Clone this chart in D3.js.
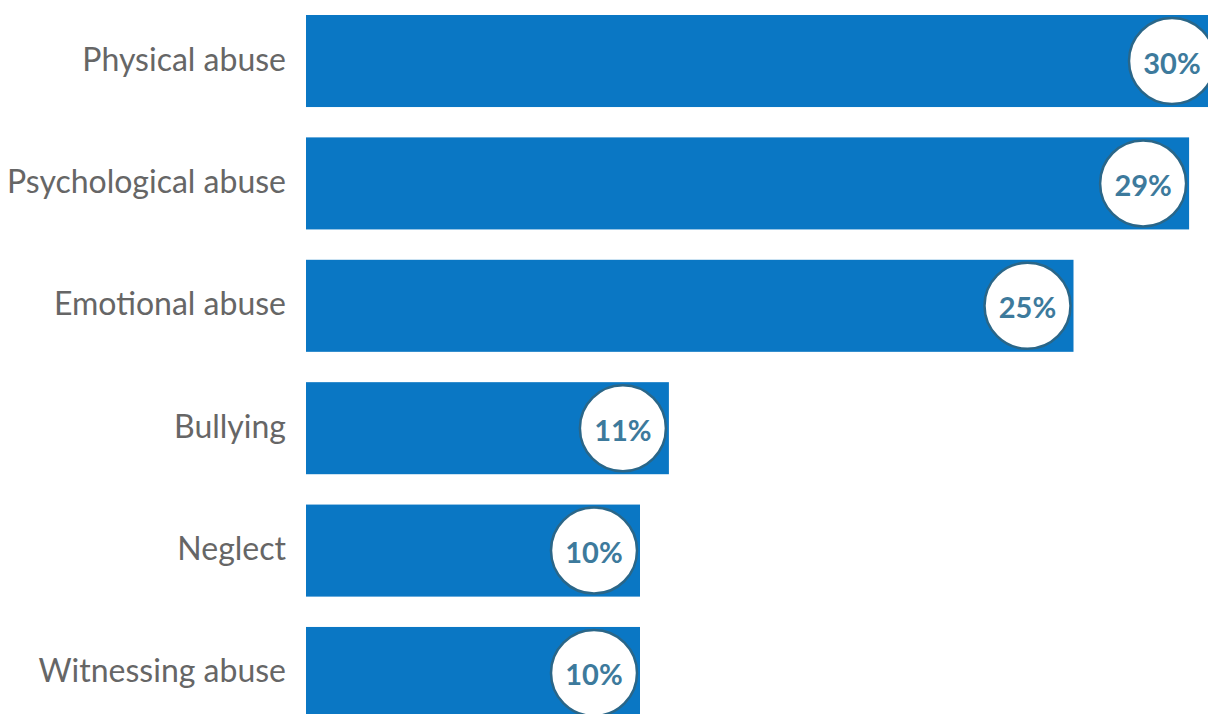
<!DOCTYPE html>
<html>
<head>
<meta charset="utf-8">
<script src="https://cdn.jsdelivr.net/npm/d3@7"></script>
<style>
  html, body { margin: 0; padding: 0; background: #ffffff; }
  svg { display: block; }
</style>
</head>
<body>
<svg id="chart" width="1208" height="714"></svg>
<script>
const categories = ["Physical abuse", "Psychological abuse", "Emotional abuse", "Bullying", "Neglect", "Witnessing abuse"];
const values = [30, 29, 25, 11, 10, 10];
const valueLabels = ["30%", "29%", "25%", "11%", "10%", "10%"];

const W = 1208, H = 714;
const svg = d3.select("#chart");

const x = d3.scaleLinear().domain([0, 30]).range([305, 1172]);
const y = d3.scaleBand().domain(categories).range([15, 719]).paddingInner(0.248).paddingOuter(0);

const r = 44;
const data = categories.map((c, i) => ({ c, v: values[i], label: valueLabels[i] }));

const barColor = "#0a77c4";

const g = svg.append("g");

g.selectAll("rect.bar").data(data).join("rect")
  .attr("class", "bar")
  .attr("x", 306)
  .attr("y", d => y(d.c))
  .attr("width", d => x(d.v) - 306 + r + 2)
  .attr("height", y.bandwidth())
  .attr("fill", barColor);

g.selectAll("circle.badge").data(data).join("circle")
  .attr("class", "badge")
  .attr("cx", d => x(d.v))
  .attr("cy", d => y(d.c) + y.bandwidth() / 2)
  .attr("r", r - 1)
  .attr("fill", "#ffffff")
  .attr("stroke", "#2a6688")
  .attr("stroke-width", 2.5);

g.selectAll("text.val").data(data).join("text")
  .attr("class", "val")
  .attr("x", d => x(d.v))
  .attr("y", d => y(d.c) + y.bandwidth() / 2 + 1)
  .attr("text-anchor", "middle")
  .attr("dominant-baseline", "central")
  .attr("font-family", "Lato, 'Open Sans', sans-serif")
  .attr("font-weight", "bold")
  .attr("font-size", 29)
  .attr("fill", "#3d7a9c")
  .text(d => d.label);

g.selectAll("text.cat").data(data).join("text")
  .attr("class", "cat")
  .attr("x", 286)
  .attr("y", d => y(d.c) + y.bandwidth() / 2 - 3)
  .attr("text-anchor", "end")
  .attr("dominant-baseline", "central")
  .attr("font-family", "Lato, 'Open Sans', sans-serif")
  .attr("font-size", 32)
  .attr("fill", "#666666")
  .text(d => d.c);
</script>
</body>
</html>
